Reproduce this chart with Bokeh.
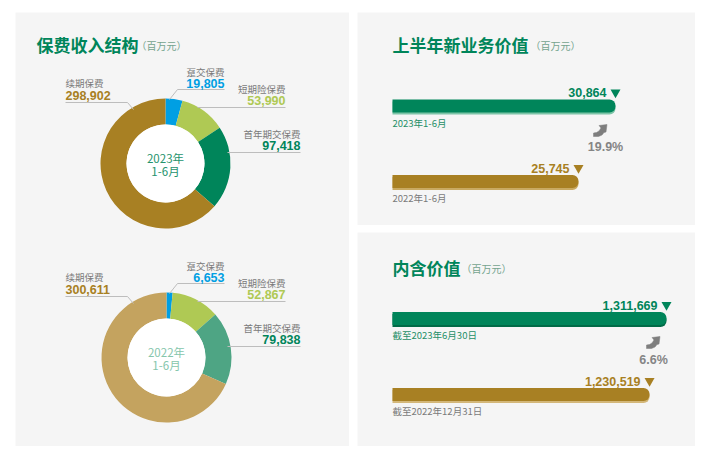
import math
from bokeh.plotting import figure
from bokeh.models import Range1d, ColumnDataSource
from bokeh.layouts import row, column
from bokeh.core.properties import value
from bokeh.embed import file_html
from bokeh.resources import INLINE

# ---------------- data ----------------
premium_categories = ["趸交保费", "短期险保费", "首年期交保费", "续期保费"]
premium_2023 = [19805, 53990, 97418, 298902]
premium_2022 = [6653, 52867, 79838, 300611]
premium_periods = [("2023年", "1-6月"), ("2022年", "1-6月")]

nbv_labels = ["2023年1-6月", "2022年1-6月"]
nbv_values = [30864, 25745]

ev_labels = ["截至2023年6月30日", "截至2022年12月31日"]
ev_values = [1311669, 1230519]

titles = ["保费收入结构", "上半年新业务价值", "内含价值"]
unit = "（百万元）"

# ---------------- styles ----------------
BG = "#F5F5F5"
GREEN = "#00855A"
GOLD = "#A88023"
LGREEN = "#AFC954"
BLUE = "#009FE3"
GRAY = "#7A7A7A"
LINE = "#BDBDBD"
CJK = "Noto Sans CJK SC"
NUM = "Liberation Sans"

cols_2023 = [BLUE, LGREEN, GREEN, GOLD]
cols_2022 = [BLUE, LGREEN, "#4EA584", "#C4A35F"]
val_cols = [BLUE, LGREEN, GREEN, GOLD]

# curved "up" arrow icon outline (pixel offsets from icon centre)
ARROW_DX = [-7, -2, 1.5, 3.5, 5.5, 6.5, -1.5, 0.5, -1.5, -4, -7]
ARROW_DY = [6, 6, 4.5, 2, 1.5, -6, -5, -2.5, 0.5, 2, 2.5]


def panel(w, h, x0, x1, y0, y1):
    p = figure(width=w, height=h, x_range=Range1d(x0, x1), y_range=Range1d(y1, y0),
               output_backend="svg", toolbar_location=None, min_border=0,
               x_axis_location=None, y_axis_location=None,
               background_fill_color=BG, border_fill_color=BG, outline_line_color=None)
    p.grid.visible = False
    return p


def txt(p, x, y, s, size, color, bold=False, align="left", font=CJK, **kw):
    p.text(x=[x], y=[y], text=[s], text_font=value(font),
           text_font_size=value(f"{size}px"),
           text_font_style="bold" if bold else "normal",
           text_color=color, text_align=align, text_baseline="middle", **kw)


def title(p, x, y, s, unit_x):
    txt(p, x, y, s, 17, GREEN, bold=True)
    txt(p, unit_x, y + 1, unit, 10, "#74A48E")


# ---------------- left panel: donuts ----------------
left = panel(334, 434, 15, 349, 12, 446)
title(left, 36, 44, titles[0], 136)


def donut(p, cx, cy, vals, colors, period, center_color):
    total = sum(vals)
    starts, ends, acc = [], [], 0
    for v in vals:
        starts.append(math.pi / 2 - 2 * math.pi * acc / total)
        acc += v
        ends.append(math.pi / 2 - 2 * math.pi * acc / total)
    src = ColumnDataSource(dict(x=[cx] * len(vals), y=[cy] * len(vals),
                                start=starts, end=ends, color=colors))
    p.annular_wedge(x="x", y="y", inner_radius=39, outer_radius=65,
                    inner_radius_units="screen", outer_radius_units="screen",
                    start_angle="start", end_angle="end", direction="clock",
                    fill_color="color", line_color=None, source=src)
    p.scatter(x=[cx], y=[cy], size=78, fill_color="white", line_color=None)
    txt(p, cx, cy - 6, period[0], 11.5, center_color, align="center")
    txt(p, cx, cy + 7, period[1], 11.5, center_color, align="center")


def donut_labels(p, vals, oy):
    # leader lines
    p.line([65, 127, 133], [102 + oy, 102 + oy, 109 + oy], line_color=LINE, line_width=1)
    p.line([169, 177, 224], [99 + oy, 89 + oy, 89 + oy], line_color=LINE, line_width=1)
    p.line([197, 285], [107 + oy, 107 + oy], line_color=LINE, line_width=1)
    p.line([227, 300], [152 + oy, 152 + oy], line_color=LINE, line_width=1)
    pos = [(224, 71, 83, "right"), (285, 88, 100, "right"),
           (300, 133, 145, "right"), (65, 82, 95, "left")]
    for (x, yn, yv, al), name, v, c in zip(pos, premium_categories, vals, val_cols):
        txt(p, x, yn + oy, name, 9.5, GRAY, align=al)
        txt(p, x, yv + oy, f"{v:,}", 12.5, c, bold=True, align=al, font=NUM)


donut(left, 165, 163, premium_2023, cols_2023, premium_periods[0], "#25936D")
donut_labels(left, premium_2023, 0)
donut(left, 166, 357, premium_2022, cols_2022, premium_periods[1], "#86C6AC")
donut_labels(left, premium_2022, 194)


# ---------------- right panels: bars ----------------
def bar_panel(h, y0, y1, ttl, ttl_y, unit_x, labels, vals, vmax_px, bar_y,
              line_cols, label_cols, icon_xy, growth_xy):
    p = panel(338, h, 357, 695, y0, y1)
    per_px = vals[0] / vmax_px
    p.extra_x_ranges = {"val": Range1d(-35 * per_px, 303 * per_px)}
    title(p, 392, ttl_y, ttl, unit_x)
    cols = [GREEN, GOLD]
    for i in range(2):
        yc = bar_y[i]
        p.hbar(y=[yc + 2], left=[0], right=[vals[i]], height=13, x_range_name="val",
               fill_color=line_cols[i], line_color=None, border_radius=(0, 6, 6, 0))
        p.hbar(y=[yc], left=[0], right=[vals[i]], height=13, x_range_name="val",
               fill_color=cols[i], line_color=None, border_radius=(0, 6, 6, 0))
        p.scatter(x=[vals[i]], y=[yc - 13.5], marker="inverted_triangle", size=10,
                  x_range_name="val", fill_color=cols[i], line_color=None)
        txt(p, vals[i], yc - 13.5, f"{vals[i]:,}", 12.5, cols[i], bold=True,
            align="right", font=NUM, x_range_name="val", x_offset=-9)
        txt(p, 392, yc + 16.5, labels[i], 9.5, label_cols[i])
    growth = (vals[0] / vals[1] - 1) * 100
    ix, iy = icon_xy
    p.patch([ix + d for d in ARROW_DX], [iy + d for d in ARROW_DY],
            fill_color="#7E7E7E", line_color="#7E7E7E", line_width=0.5)
    gx, gy = growth_xy
    txt(p, gx, gy, f"{growth:.1f}%", 12.5, "#858585", bold=True, align="center", font=NUM)
    return p


tr = bar_panel(213, 12, 225, titles[1], 44, 530, nbv_labels, nbv_values, 223,
               [105.5, 181], ["#7CC4A7", "#C9AA62"], ["#1F8F67", GRAY], (600, 130), (605, 146))
br = bar_panel(214, 232, 446, titles[2], 267, 461, ev_labels, ev_values, 274,
               [318, 394], ["#006B47", "#D3B779"], ["#1F8F67", GRAY], (653, 342), (653, 359))

layout = row(left, column(tr, br, spacing=7), spacing=8, margin=(12, 0, 0, 15))

open("out.html", "w").write(file_html(layout, INLINE))
